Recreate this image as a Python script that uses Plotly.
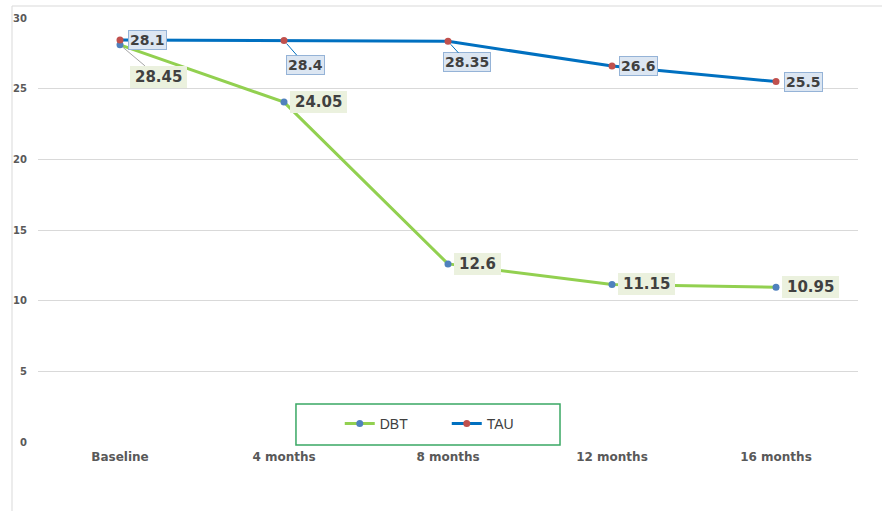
import plotly.graph_objects as go

categories = ["Baseline", "4 months", "8 months", "12 months", "16 months"]
dbt_values = [28.1, 24.05, 12.6, 11.15, 10.95]
tau_values = [28.45, 28.4, 28.35, 26.6, 25.5]
dbt_labels = ["28.45", "24.05", "12.6", "11.15", "10.95"]
tau_labels = ["28.1", "28.4", "28.35", "26.6", "25.5"]
y_ticks = [0, 5, 10, 15, 20, 25, 30]

fig = go.Figure()
fig.add_trace(go.Scatter(
    x=categories, y=dbt_values, name="DBT", mode="lines+markers",
    line=dict(color="#92d050", width=3),
    marker=dict(color="#4f81bd", size=7),
))
fig.add_trace(go.Scatter(
    x=categories, y=tau_values, name="TAU", mode="lines+markers",
    line=dict(color="#0070c0", width=3),
    marker=dict(color="#c0504d", size=7),
))

dbt_font = dict(family="DejaVu Sans", size=15, color="#404040", weight="bold")
tau_font = dict(family="DejaVu Sans", size=14, color="#404040", weight="bold")
pad = "\u2009"

dbt_place = [
    dict(showarrow=True, ax=38, ay=32, arrowcolor="#a6a6a6"),
    dict(showarrow=False, xshift=6),
    dict(showarrow=False, xshift=6),
    dict(showarrow=False, xshift=6),
    dict(showarrow=False, xshift=6),
]
tau_place = [
    dict(showarrow=False, xshift=8),
    dict(showarrow=True, ax=21, ay=24, arrowcolor="#0070c0"),
    dict(showarrow=True, ax=19, ay=21, arrowcolor="#0070c0"),
    dict(showarrow=False, xshift=7),
    dict(showarrow=False, xshift=8),
]

for cat, val, lab, pl in zip(categories, dbt_values, dbt_labels, dbt_place):
    kw = dict(x=cat, y=val, text=pad + lab + pad, font=dbt_font, bgcolor="#ebf1de",
              borderpad=2, borderwidth=0)
    if pl["showarrow"]:
        kw.update(showarrow=True, ax=pl["ax"], ay=pl["ay"], arrowhead=0,
                  arrowwidth=1, arrowcolor=pl["arrowcolor"], standoff=4)
    else:
        kw.update(showarrow=False, xanchor="left", xshift=pl["xshift"])
    fig.add_annotation(**kw)

for cat, val, lab, pl in zip(categories, tau_values, tau_labels, tau_place):
    kw = dict(x=cat, y=val, text=lab, font=tau_font, bgcolor="#dce6f2",
              bordercolor="#95b3d7", borderwidth=1, borderpad=1)
    if pl["showarrow"]:
        kw.update(showarrow=True, ax=pl["ax"], ay=pl["ay"], arrowhead=0,
                  arrowwidth=1, arrowcolor=pl["arrowcolor"], standoff=4)
    else:
        kw.update(showarrow=False, xanchor="left", xshift=pl["xshift"])
    fig.add_annotation(**kw)

fig.add_shape(type="rect", xref="paper", yref="paper",
              x0=-0.0317, x1=1.04, y0=-0.2, y1=1.0283,
              line=dict(color="#d9d9d9", width=1), layer="below")
fig.add_shape(type="rect", xref="paper", yref="paper",
              x0=0.3146, x1=0.6366, y0=-0.0071, y1=0.0896,
              line=dict(color="#3aa864", width=1.5), fillcolor="white", layer="above")

fig.update_layout(
    width=882, height=511,
    margin=dict(l=38, r=24, t=18, b=69),
    paper_bgcolor="white", plot_bgcolor="white",
    font=dict(family="DejaVu Sans", color="#595959"),
    showlegend=True,
    legend=dict(orientation="h", x=0.368, y=0.0425, xanchor="left", yanchor="middle",
                bgcolor="rgba(0,0,0,0)", borderwidth=0,
                font=dict(size=14, color="#404040", family="Liberation Sans"),
                entrywidth=62, entrywidthmode="pixels", itemwidth=30),
    xaxis=dict(type="category", range=[-0.5, 4.5], showgrid=False, zeroline=False,
               showline=False, ticks="", ticklabelstandoff=6,
               tickfont=dict(size=12, color="#595959", weight="bold")),
    yaxis=dict(range=[0, 30], tickvals=y_ticks, showgrid=True, gridcolor="#d9d9d9",
               gridwidth=1, zeroline=False, showline=False, ticks="",
               ticklabelstandoff=10,
               tickfont=dict(size=10, color="#595959", weight="bold")),
)

fig.write_html("out.html")
